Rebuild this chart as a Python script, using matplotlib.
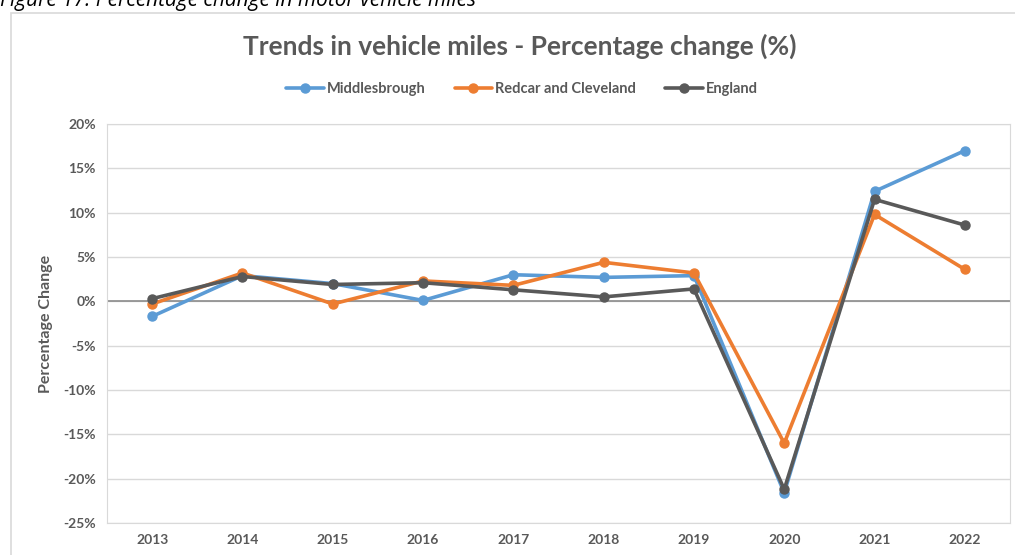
import matplotlib.pyplot as plt
from matplotlib.patches import Rectangle
from matplotlib.ticker import FuncFormatter

plt.rcParams['font.family'] = ['Lato', 'DejaVu Sans']

years = ['2013', '2014', '2015', '2016', '2017', '2018', '2019', '2020', '2021', '2022']
middlesbrough = [-1.7, 2.9, 2.0, 0.1, 3.0, 2.7, 2.9, -21.6, 12.4, 17.0]
redcar = [-0.3, 3.2, -0.3, 2.3, 1.8, 4.4, 3.2, -16.0, 9.8, 3.6]
england = [0.3, 2.8, 1.9, 2.1, 1.3, 0.5, 1.4, -21.2, 11.5, 8.6]

series = [('Middlesbrough', middlesbrough, '#5B9BD5'),
          ('Redcar and Cleveland', redcar, '#ED7D31'),
          ('England', england, '#595959')]

text_col = '#595959'
W, H = 1015, 555
fig = plt.figure(figsize=(W / 100, H / 100), dpi=100)

# chart border and caption (caption is cut at the top in the source too)
fig.patches.append(Rectangle((11 / W, -0.1), 1.2, 1 - 13 / H + 0.1, transform=fig.transFigure,
                             fill=False, edgecolor='#D9D9D9', linewidth=1.2))
fig.text(0.0, 1 - 6 / H, 'Figure 17: Percentage change in motor vehicle miles',
         fontsize=15, style='italic', color='black', va='baseline', ha='left',
         family=['Open Sans', 'DejaVu Sans'])

ax = fig.add_axes([107 / W, 32 / H, 903 / W, 399 / H])
x = list(range(len(years)))
for name, vals, col in series:
    ax.plot(x, vals, color=col, linewidth=2.6, marker='o', markersize=6.5, label=name,
            solid_capstyle='round', zorder=3)

ax.set_xlim(-0.5, len(years) - 0.5)
ax.set_ylim(-25, 20)
ax.set_yticks(range(-25, 21, 5))
ax.yaxis.set_major_formatter(FuncFormatter(lambda v, p: f'{v:.0f}%'))
ax.set_xticks(x)
ax.set_xticklabels(years)
ax.grid(axis='y', color='#D9D9D9', linewidth=1)
ax.axhline(0, color='#8C8C8C', linewidth=1.2, zorder=2)
ax.set_axisbelow(True)
for s in ax.spines.values():
    s.set_color('#D9D9D9')
ax.tick_params(length=0, labelsize=10, labelcolor=text_col, pad=8)
for lab in ax.get_xticklabels() + ax.get_yticklabels():
    lab.set_fontweight('bold')
ax.set_ylabel('Percentage Change', fontsize=11.5, color=text_col, fontweight='bold', labelpad=7)

fig.text(520 / W, 1 - 46 / H, 'Trends in vehicle miles - Percentage change (%)',
         fontsize=19, fontweight='bold', color=text_col, ha='center', va='center')

leg = fig.legend(loc='center', bbox_to_anchor=(522 / W, 1 - 89 / H), ncol=3, frameon=False,
                 fontsize=10.5, handlelength=2.6, columnspacing=2.0, handletextpad=0.2)
for t in leg.get_texts():
    t.set_color(text_col)
    t.set_fontweight('bold')

fig.savefig('out.png', dpi=100)
